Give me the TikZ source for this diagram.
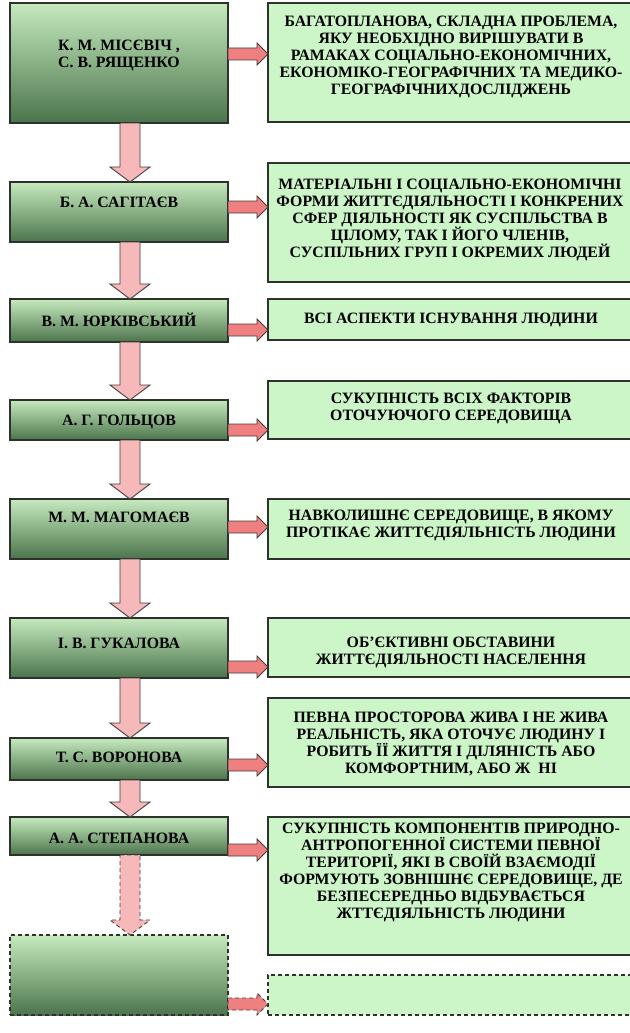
\documentclass[tikz,border=0pt]{standalone}
\usepackage{fontspec}
\setmainfont{Liberation Serif}
\usetikzlibrary{calc}
\definecolor{lgtop}{RGB}{198,234,190}
\definecolor{lgbot}{RGB}{76,116,76}
\definecolor{rfill}{RGB}{204,245,200}
\definecolor{bordc}{RGB}{45,50,45}
\definecolor{rarrfill}{RGB}{238,128,128}
\definecolor{darrfill}{RGB}{246,184,184}
\definecolor{arrline}{RGB}{70,60,60}
\tikzset{
  lbox/.style={draw=bordc,line width=1.4pt,top color=lgtop,bottom color=lgbot,inner sep=0pt,outer sep=0pt},
  rbox/.style={draw=bordc,line width=1.4pt,fill=rfill,inner sep=0pt,outer sep=0pt},
  dashbox/.style={dash pattern=on 4pt off 3pt},
  boxtext/.style={font=\bfseries\fontsize{15.8}{17}\selectfont,align=center,inner sep=0pt},
  darr/.style={draw=arrline,line width=0.9pt,fill=darrfill,line join=miter},
  rarr/.style={draw=arrline,line width=0.9pt,fill=rarrfill,line join=miter},
}
% box: name, x1, y1, x2, y2, style
\newcommand\mybox[6]{\node[#6,minimum width={(#4-#2)*1pt},minimum height={(#5-#3)*1pt}] (#1) at ({(#2+#4)/2},{(#3+#5)/2}) {};}
% down arrow: from, to, extra style
\newcommand\mydown[3]{\draw[darr,#3] let \p1=(#1.south), \p2=(#2.north) in
  (120pt,\y1) -- (140pt,\y1) -- (140pt,\y2+15pt) -- (150pt,\y2+15pt) -- (130pt,\y2)
  -- (110pt,\y2+15pt) -- (120pt,\y2+15pt) -- cycle;}
% right arrow: from, to, y (pixels from top), extra style
\newcommand\myright[4]{\draw[rarr,#4] let \p1=(#1.east), \p2=(#2.west) in
  (\x1,{(6-#3)*1pt}) -- (\x2-11pt,{(6-#3)*1pt}) -- (\x2-11pt,{(11-#3)*1pt}) -- (\x2,{-#3*1pt})
  -- (\x2-11pt,{(-11-#3)*1pt}) -- (\x2-11pt,{(-6-#3)*1pt}) -- (\x1,{(-6-#3)*1pt}) -- cycle;}
\begin{document}
\begin{tikzpicture}[x=1pt,y=-1pt]
\fill[white] (0,0) rectangle (629,1033);
\useasboundingbox (0,0) rectangle (629,1033);
% left boxes
\mybox{b1}{10}{3}{228}{123}{lbox}
\mybox{b2}{10}{182}{228}{242}{lbox}
\mybox{b3}{10}{299}{228}{342}{lbox}
\mybox{b4}{10}{400}{228}{440}{lbox}
\mybox{b5}{10}{499}{228}{559}{lbox}
\mybox{b6}{10}{618}{228}{678}{lbox}
\mybox{b7}{10}{738}{228}{780}{lbox}
\mybox{b8}{10}{817}{228}{855}{lbox}
\mybox{b9}{10}{935}{228}{1015}{lbox,dashbox}
% right boxes
\mybox{r1}{268}{3}{640}{122}{rbox}
\mybox{r2}{268}{163}{640}{282}{rbox}
\mybox{r3}{268}{299}{640}{340}{rbox}
\mybox{r4}{268}{381}{640}{439}{rbox}
\mybox{r5}{268}{499}{640}{559}{rbox}
\mybox{r6}{268}{618}{640}{677}{rbox}
\mybox{r7}{268}{698}{640}{787}{rbox}
\mybox{r8}{268}{817}{640}{955}{rbox}
\mybox{r9}{268}{975}{640}{1015}{rbox,dashbox}
% left texts
\node[boxtext] (t1) at (119,55) {К. М. МІСЄВІЧ ,\\С. В. РЯЩЕНКО};
\node[boxtext] (t2) at (119,202) {Б. А. САГІТАЄВ};
\node[boxtext] (t3) at (119,320) {В. М. ЮРКІВСЬКИЙ};
\node[boxtext] (t4) at (119,422) {А. Г. ГОЛЬЦОВ};
\node[boxtext] (t5) at (119,517) {М. М. МАГОМАЄВ};
\node[boxtext] (t6) at (119,643) {І. В. ГУКАЛОВА};
\node[boxtext] (t7) at (119,757) {Т. С. ВОРОНОВА};
\node[boxtext] (t8) at (119,838) {А. А. СТЕПАНОВА};
% right texts
\node[boxtext] (s1) at (451,57) {БАГАТОПЛАНОВА, СКЛАДНА ПРОБЛЕМА,\\ЯКУ НЕОБХІДНО ВИРІШУВАТИ В\\РАМАКАХ СОЦІАЛЬНО-ЕКОНОМІЧНИХ,\\ЕКОНОМІКО-ГЕОГРАФІЧНИХ ТА МЕДИКО-\\ГЕОГРАФІЧНИХДОСЛІДЖЕНЬ};
\node[boxtext] (s2) at (450,220) {МАТЕРІАЛЬНІ І СОЦІАЛЬНО-ЕКОНОМІЧНІ\\ФОРМИ ЖИТТЄДІЯЛЬНОСТІ І КОНКРЕНИХ\\СФЕР ДІЯЛЬНОСТІ ЯК СУСПІЛЬСТВА В\\ЦІЛОМУ, ТАК І ЙОГО ЧЛЕНІВ,\\СУСПІЛЬНИХ ГРУП І ОКРЕМИХ ЛЮДЕЙ};
\node[boxtext] (s3) at (451,320) {ВСІ АСПЕКТИ ІСНУВАННЯ ЛЮДИНИ};
\node[boxtext] (s4) at (451,408) {СУКУПНІСТЬ ВСІХ ФАКТОРІВ\\ОТОЧУЮЧОГО СЕРЕДОВИЩА};
\node[boxtext] (s5) at (451,525) {НАВКОЛИШНЄ СЕРЕДОВИЩЕ, В ЯКОМУ\\ПРОТІКАЄ ЖИТТЄДІЯЛЬНІСТЬ ЛЮДИНИ};
\node[boxtext] (s6) at (451,652) {ОБ’ЄКТИВНІ ОБСТАВИНИ\\ЖИТТЄДІЯЛЬНОСТІ НАСЕЛЕННЯ};
\node[boxtext] (s7) at (451,744) {ПЕВНА ПРОСТОРОВА ЖИВА І НЕ ЖИВА\\РЕАЛЬНІСТЬ, ЯКА ОТОЧУЄ ЛЮДИНУ І\\РОБИТЬ ЇЇ ЖИТТЯ І ДІЛЯНІСТЬ АБО\\КОМФОРТНИМ, АБО Ж\enspace НІ};
\node[boxtext] (s8) at (451,872) {СУКУПНІСТЬ КОМПОНЕНТІВ ПРИРОДНО-\\АНТРОПОГЕННОЇ СИСТЕМИ ПЕВНОЇ\\ТЕРИТОРІЇ, ЯКІ В СВОЇЙ ВЗАЄМОДІЇ\\ФОРМУЮТЬ ЗОВНІШНЄ СЕРЕДОВИЩЕ, ДЕ\\БЕЗПЕСЕРЕДНЬО ВІДБУВАЄТЬСЯ\\ЖТТЄДІЯЛЬНІСТЬ ЛЮДИНИ};
% down arrows
\mydown{b1}{b2}{}
\mydown{b2}{b3}{}
\mydown{b3}{b4}{}
\mydown{b4}{b5}{}
\mydown{b5}{b6}{}
\mydown{b6}{b7}{}
\mydown{b7}{b8}{}
\mydown{b8}{b9}{dashbox}
% right arrows
\myright{b1}{r1}{54}{}
\myright{b2}{r2}{207}{}
\myright{b3}{r3}{330}{}
\myright{b4}{r4}{430}{}
\myright{b5}{r5}{527}{}
\myright{b6}{r6}{667}{}
\myright{b7}{r7}{765}{}
\myright{b8}{r8}{850}{}
\myright{b9}{r9}{1004}{dashbox}
\end{tikzpicture}
\end{document}
